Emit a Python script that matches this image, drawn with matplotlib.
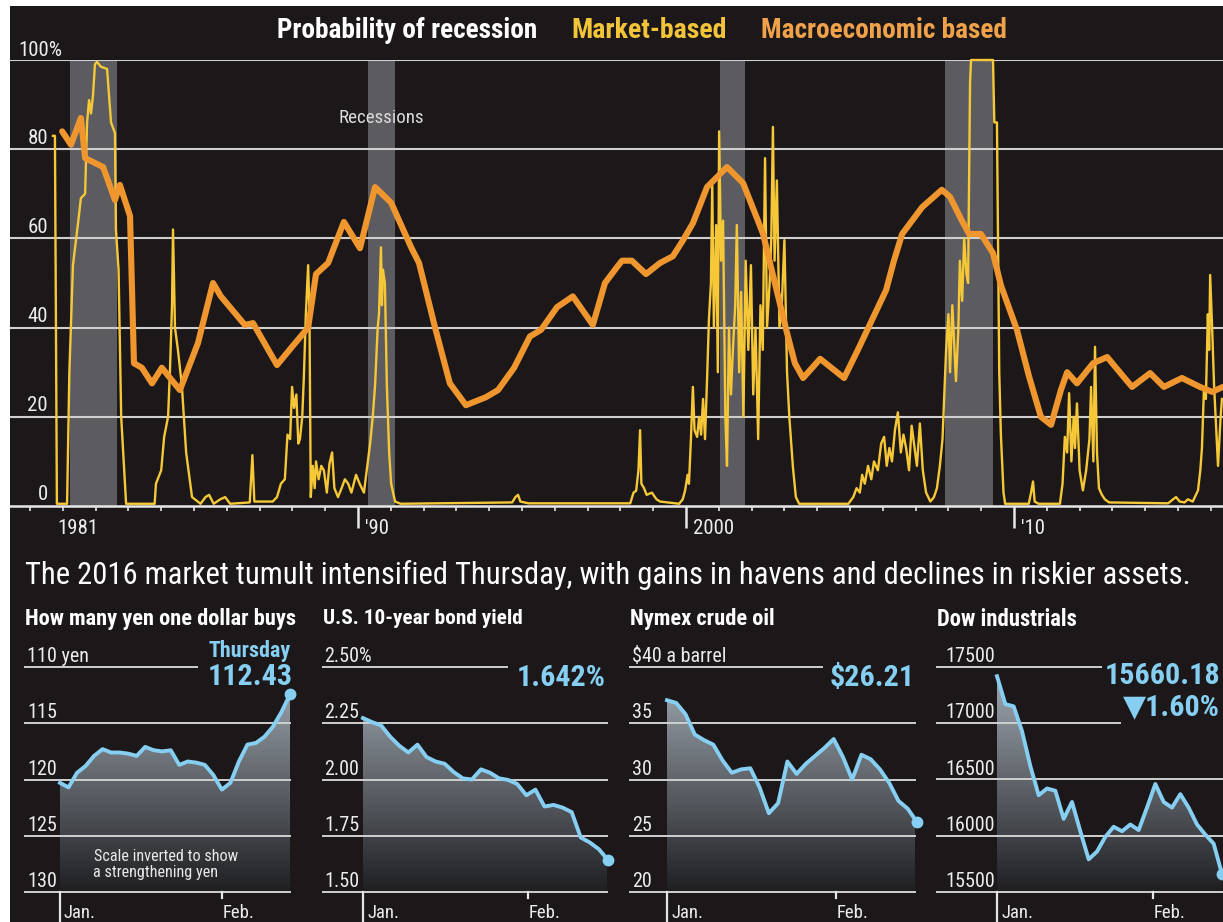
import numpy as np
import matplotlib.pyplot as plt
from matplotlib import transforms as mtrans
from matplotlib import font_manager
from matplotlib.colors import LinearSegmentedColormap
from matplotlib.patches import Rectangle

W, H = 1223, 922
BG = '#1c1819'
YELLOW = '#f6c838'
ORANGE = '#ef962f'
BLUE = '#86cff2'
GRID = '#cfcfcf'
TXT = '#ececec'

installed = {f.name for f in font_manager.fontManager.ttflist}
narrow_pref = ['Liberation Sans Narrow', 'Roboto Condensed', 'Open Sans Condensed',
               'Noto Sans Condensed', 'Roboto']
NARROW = next((f for f in narrow_pref if f in installed), 'DejaVu Sans')
COND = [NARROW, 'DejaVu Sans']

# ---------------- top chart data ----------------
mkt_year = [1980.70, 1980.76, 1980.82, 1981.13, 1981.20, 1981.31, 1981.49, 1981.55, 1981.68, 1981.74,
            1981.80, 1981.86, 1981.92, 1981.98, 1982.04, 1982.16, 1982.35, 1982.47, 1982.59, 1982.62,
            1982.70, 1982.78, 1982.93, 1983.80, 1983.84, 1984.00, 1984.09, 1984.21, 1984.27, 1984.33,
            1984.36, 1984.42, 1984.51, 1984.63, 1984.76, 1984.94, 1985.20, 1985.35, 1985.46, 1985.60,
            1985.80, 1985.95, 1986.10, 1986.70, 1986.78, 1986.84, 1987.40, 1987.53, 1987.65, 1987.77,
            1987.85, 1987.93, 1987.99, 1988.05, 1988.12, 1988.18, 1988.23, 1988.30, 1988.35, 1988.41,
            1988.48, 1988.52, 1988.56, 1988.62, 1988.68, 1988.72, 1988.80, 1988.88, 1988.96, 1989.05,
            1989.13, 1989.21, 1989.28, 1989.39, 1989.50, 1989.60, 1989.70, 1989.80, 1989.94, 1990.05,
            1990.18, 1990.30, 1990.37, 1990.45, 1990.52, 1990.60, 1990.64, 1990.70, 1990.73, 1990.76,
            1990.82, 1990.88, 1990.95, 1991.01, 1991.13, 1991.30, 1994.70, 1994.80, 1994.88, 1994.95,
            1995.20, 1998.30, 1998.40, 1998.48, 1998.55, 1998.60, 1998.64, 1998.72, 1998.80, 1998.96,
            1999.10, 1999.21, 1999.79, 1999.90, 1999.97, 2000.05, 2000.09, 2000.15, 2000.21, 2000.26,
            2000.34, 2000.40, 2000.46, 2000.52, 2000.58, 2000.64, 2000.70, 2000.76, 2000.80, 2000.85,
            2000.92, 2000.97, 2001.01, 2001.07, 2001.13, 2001.20, 2001.25, 2001.31, 2001.37, 2001.43,
            2001.50, 2001.55, 2001.62, 2001.68, 2001.75, 2001.82, 2001.90, 2001.98, 2002.05, 2002.12,
            2002.20, 2002.27, 2002.34, 2002.41, 2002.47, 2002.55, 2002.60, 2002.65, 2002.70, 2002.77,
            2002.85, 2002.92, 2003.00, 2003.08, 2003.15, 2003.26, 2003.35, 2003.45, 2004.95, 2005.10,
            2005.20, 2005.30, 2005.37, 2005.45, 2005.55, 2005.65, 2005.73, 2005.85, 2005.95, 2006.04,
            2006.12, 2006.20, 2006.28, 2006.37, 2006.46, 2006.55, 2006.63, 2006.71, 2006.80, 2006.88,
            2006.95, 2007.04, 2007.13, 2007.22, 2007.32, 2007.45, 2007.56, 2007.65, 2007.74, 2007.82,
            2007.93, 2008.00, 2008.05, 2008.12, 2008.23, 2008.30, 2008.35, 2008.42, 2008.48, 2008.55,
            2008.60, 2008.66, 2008.69, 2009.36, 2009.40, 2009.48, 2009.55, 2009.60, 2009.68, 2009.73,
            2010.45, 2010.52, 2010.58, 2010.63, 2010.75, 2011.40, 2011.48, 2011.55, 2011.62, 2011.68,
            2011.75, 2011.82, 2011.86, 2011.92, 2012.00, 2012.10, 2012.20, 2012.30, 2012.35, 2012.42,
            2012.47, 2012.53, 2012.59, 2012.68, 2012.77, 2012.90, 2014.70, 2014.85, 2014.94, 2015.05,
            2015.20, 2015.30, 2015.45, 2015.61, 2015.68, 2015.73, 2015.79, 2015.85, 2015.91, 2015.95,
            2015.98, 2016.04, 2016.10, 2016.16, 2016.22, 2016.30, 2016.34]
mkt_val = [83, 83, 0.5, 0.5, 30, 54, 65, 69, 70, 86,
           91, 88, 92, 99, 99.6, 98.5, 98, 86, 83.6, 62,
           53, 20, 0.5, 0.5, 5, 8, 15.5, 20, 31, 45,
           62, 40, 35, 27, 12, 2, 0.5, 2, 2.5, 0.5,
           1.5, 2, 0.5, 0.8, 11.4, 1, 1, 2, 5, 6,
           16, 15, 26.7, 22, 25, 14, 15, 20, 29, 43,
           54, 43, 2, 9, 4, 10, 6, 9, 8, 3,
           9.5, 12, 4, 2, 4, 6, 5, 3, 7, 5,
           3, 10, 14, 20, 27, 40, 43, 58, 45, 53,
           50, 27, 12, 5, 1, 0.5, 0.8, 2, 2.5, 1,
           0.6, 0.6, 3, 3.4, 8, 17, 5, 4, 2.5, 3,
           1.5, 1, 0.5, 1.5, 3.4, 7, 5, 15, 26.7, 17,
           15.5, 20, 16, 24, 15, 28, 42, 50, 72, 40,
           63, 30, 84, 55, 64, 20, 9, 40, 25, 35,
           45, 63, 30, 48, 20, 55, 35, 54, 25, 40,
           15, 45, 35, 78, 40, 50, 60, 85, 55, 73,
           40, 45, 59.6, 30, 20, 8.7, 2, 0.5, 0.5, 2,
           4, 3, 7, 5, 9, 6, 10, 8, 14, 15.5,
           9, 13, 10, 17, 21, 12, 16, 13, 8, 18,
           14, 9, 18.5, 8, 3, 1, 2, 4, 9, 15,
           35, 43, 30, 45, 28, 39, 55, 46, 60, 52,
           50, 95, 100, 100, 86, 86, 30, 16, 3, 0.5,
           0.5, 3, 5.5, 1, 0.5, 0.5, 5, 15.5, 12, 25.3,
           10, 20, 13, 23, 8, 3.5, 8, 15, 26.7, 10,
           35.7, 12, 4, 2.5, 1.5, 0.8, 0.6, 1.5, 2, 1,
           0.8, 1.5, 1, 3.5, 8, 13, 26, 24, 43, 35,
           51.8, 40, 27, 18, 9, 20, 24]

mac_year = [1980.98, 1981.25, 1981.55, 1981.68, 1982.23, 1982.59, 1982.74, 1983.05, 1983.17, 1983.41,
            1983.72, 1984.02, 1984.27, 1984.57, 1985.12, 1985.58, 1985.82, 1986.55, 1986.80, 1987.53,
            1987.99, 1988.48, 1988.72, 1989.09, 1989.57, 1990.06, 1990.52, 1991.01, 1991.62, 1991.86,
            1992.35, 1992.80, 1993.29, 1993.90, 1994.27, 1994.76, 1995.24, 1995.58, 1996.07, 1996.55,
            1997.16, 1997.53, 1997.90, 1998.05, 1998.35, 1998.78, 1999.21, 1999.60, 1999.91, 2000.21,
            2000.64, 2001.25, 2001.74, 2002.10, 2002.35, 2002.59, 2002.71, 2003.08, 2003.32, 2003.57,
            2004.09, 2004.82, 2005.24, 2006.10, 2006.34, 2006.59, 2007.20, 2007.80, 2008.05, 2008.41,
            2008.63, 2008.99, 2009.36, 2009.60, 2010.09, 2010.46, 2010.82, 2011.13, 2011.43, 2011.62,
            2011.92, 2012.41, 2012.84, 2013.11, 2013.60, 2014.15, 2014.57, 2015.12, 2015.67, 2016.04,
            2016.37]
mac_val = [84, 81, 87, 78, 76, 68.6, 72, 65, 32, 31,
           27.5, 31, 28.7, 26, 36.5, 50, 47, 40.6, 41, 31.6,
           35.7, 40, 52, 54.5, 63.7, 57.8, 71.5, 68, 58, 54.5,
           40, 27.5, 22.6, 24.4, 26, 31, 38, 39.5, 44.6, 47,
           40.6, 50, 53.6, 55, 55, 52, 54.5, 56, 59.6, 63.4,
           71.5, 76, 72.4, 65.7, 61, 53.6, 50, 38.8, 32, 28.7,
           33, 28.7, 35, 48.4, 55, 61, 67, 70.9, 69.3, 64,
           61, 61, 56.7, 49.5, 39.5, 29, 20, 18.2, 26, 30,
           27.5, 32, 33.4, 31, 26.7, 29.8, 26.7, 28.7, 26.7, 25.6,
           26.7]

recessions = [(1981.22, 1982.65), (1990.30, 1991.13), (2001.04, 2001.80), (2007.90, 2009.36)]
top_grid = [20, 40, 60, 80, 100]
top_ylabels = [0, 20, 40, 60, 80]
top_major = [1990, 2000, 2010]
top_xlabel_years = [1981, 1990, 2000, 2010]
top_xlabels = ['1981', "'90", '2000', "'10"]

# ---------------- small panels data (trading days, Jan 4 - Feb 11) ----------------
yen = [120.3, 120.7, 119.4, 118.8, 117.9, 117.3, 117.6, 117.6, 117.7, 117.9,
       117.1, 117.4, 117.5, 117.4, 118.7, 118.4, 118.5, 118.7, 119.6, 120.9,
       120.3, 118.4, 116.9, 116.75, 116.2, 115.3, 114.0, 112.43]
bond = [2.273, 2.255, 2.24, 2.19, 2.15, 2.12, 2.155, 2.10, 2.08, 2.07,
        2.033, 2.005, 2.00, 2.045, 2.03, 2.005, 1.998, 1.98, 1.93, 1.955,
        1.88, 1.887, 1.875, 1.855, 1.742, 1.72, 1.69, 1.642]
oil = [37.05, 36.8, 35.8, 34.0, 33.5, 33.1, 31.7, 30.6, 30.9, 31.0,
       29.3, 27.0, 27.9, 31.6, 30.5, 31.4, 32.1, 32.8, 33.6, 32.0,
       30.0, 32.2, 31.8, 30.9, 29.7, 28.1, 27.4, 26.21]
dow = [17418, 17170, 17150, 16930, 16620, 16360, 16420, 16400, 16150, 16300,
       16040, 15790, 15860, 15990, 16080, 16040, 16100, 16050, 16250, 16460,
       16300, 16250, 16370, 16250, 16100, 16010, 15930, 15660]


def fx(x):
    return x / W


def fy(y):
    return 1 - y / H


def px_to_year(px):
    return 1990 + (px - 358) / 32.8


fig = plt.figure(figsize=(W / 100, H / 100), dpi=100, facecolor='white')
fig.patches.append(Rectangle((fx(10), 0), 1 - fx(10), fy(6), transform=fig.transFigure,
                             facecolor=BG, edgecolor='none', zorder=-10))
renderer = fig.canvas.get_renderer()


def fit(t, width_px):
    # shrink / grow a text so it spans the same width as in the reference
    bb = t.get_window_extent(renderer)
    t.set_fontsize(t.get_fontsize() * width_px / bb.width)
    return t


# ================= top chart =================
ax = fig.add_axes([fx(10), fy(506), fx(1223) - fx(10), (506 - 60) / H])
ax.patch.set_alpha(0)
for s in ax.spines.values():
    s.set_visible(False)
ax.set_xlim(px_to_year(10), px_to_year(1223))
ax.set_ylim(0, 100)
ax.set_yticks([])
ax.set_xticks(top_major)
ax.set_xticks(range(1980, 2017), minor=True)
ax.set_xticklabels([])
ax.tick_params(axis='x', which='major', length=16, width=1.8, color='#e6e6e6', direction='out')
ax.tick_params(axis='x', which='minor', length=3.5, width=1.2, color='#e6e6e6', direction='out')

for a, b in recessions:
    ax.axvspan(a, b, color='#5b5b60', lw=0, zorder=1)
for v in top_grid:
    ax.axhline(v, color=GRID, lw=1.5, zorder=2)
ax.axhline(0, color='#e8e8e8', lw=1.8, zorder=6, clip_on=False)

ax.plot(mkt_year, mkt_val, color=YELLOW, lw=1.7, zorder=3, clip_on=False)
ax.plot(mac_year, mac_val, color=ORANGE, lw=4.4, zorder=4,
        solid_joinstyle='round', solid_capstyle='round')

yt = mtrans.blended_transform_factory(fig.transFigure, ax.transData)
for v in top_ylabels:
    ax.text(fx(48), v, str(v), transform=mtrans.offset_copy(yt, fig=fig, y=4, units='points'),
            ha='right', va='baseline', fontsize=15, color=TXT, family=COND)
ax.text(fx(18), 100, '100%', transform=mtrans.offset_copy(yt, fig=fig, y=3, units='points'),
        ha='left', va='baseline', fontsize=15, color=TXT, family=COND)

xt = mtrans.blended_transform_factory(ax.transData, fig.transFigure)
for yr, lab in zip(top_xlabel_years, top_xlabels):
    dx = -4 if yr == 1981 else 5
    ax.text(yr, fy(528), lab, transform=mtrans.offset_copy(xt, fig=fig, x=dx, units='points'),
            ha='left', va='center', fontsize=15, color=TXT, family=COND)

fit(fig.text(fx(277), fy(30), 'Probability of recession', fontsize=18, weight='bold',
             color='white', va='center', family=COND), 261)
fit(fig.text(fx(571), fy(30), 'Market-based', fontsize=18, weight='bold',
             color='#f2c43a', va='center', family=COND), 156)
fit(fig.text(fx(761), fy(30), 'Macroeconomic based', fontsize=18, weight='bold',
             color='#f0a24a', va='center', family=COND), 246)
fit(fig.text(fx(338), fy(118), 'Recessions', fontsize=12, color='#dadada',
             ha='left', va='center', family=COND), 85)

fit(fig.text(fx(25), fy(575),
             'The 2016 market tumult intensified Thursday, with gains in havens and declines in riskier assets.',
             fontsize=16, color='white', va='center', family=COND), 1170)

# ================= small panels =================
FILL = LinearSegmentedColormap.from_list('fill', ['#1f1f22', '#a4adb6'])
PTOP, PBOT = 667, 892


def panel(vals, lo, hi, ticks, labels, title, title_w, left, right, jan, end, feb, partial, lab_x):
    n = len(vals)
    idx = np.arange(n)
    ppi = (end - jan) / (n - 1)
    pax = fig.add_axes([fx(left), fy(PBOT), fx(right) - fx(left), (PBOT - PTOP) / H])
    pax.axis('off')

    poly = pax.fill_between(idx, vals, lo, facecolor='none', lw=0)
    grad = np.linspace(1, 0, 256).reshape(-1, 1)
    im = pax.imshow(grad, extent=[idx[0], idx[-1], lo, hi], origin='upper',
                    aspect='auto', cmap=FILL, zorder=1)
    im.set_clip_path(poly.get_paths()[0], transform=pax.transData)
    pax.set_xlim((left - jan) / ppi, (right - jan) / ppi)
    pax.set_ylim(lo, hi)

    gt = mtrans.blended_transform_factory(fig.transFigure, pax.transData)
    for v, lab in zip(ticks, labels):
        xr = partial.get(v, right)
        pax.plot([fx(left), fx(xr)], [v, v], transform=gt, color=GRID, lw=1.4,
                 zorder=2, clip_on=False)
        pax.text(fx(lab_x), v, lab, transform=mtrans.offset_copy(gt, fig=fig, y=3.5, units='points'),
                 ha='left', va='baseline', fontsize=14.5, color=TXT, family=COND)

    pax.plot(idx, vals, color=BLUE, lw=2.8, zorder=4, solid_joinstyle='round', clip_on=False)
    pax.plot(idx[-1], vals[-1], 'o', ms=7.5, color=BLUE, zorder=5, clip_on=False)

    # month ticks
    fig.add_artist(plt.Line2D([fx(jan), fx(jan)], [fy(PBOT), fy(922)], color='#e6e6e6', lw=1.6))
    fig.add_artist(plt.Line2D([fx(feb), fx(feb)], [fy(PBOT), fy(898)], color='#e6e6e6', lw=1.6))
    fig.text(fx(jan + 4), fy(913), 'Jan.', fontsize=13.5, color=TXT, va='center', family=COND)
    fig.text(fx(feb + 1), fy(913), 'Feb.', fontsize=13.5, color=TXT, va='center', family=COND)

    fit(fig.text(fx(left), fy(619), title, fontsize=14.5, weight='bold', color='white',
                 va='center', family=COND), title_w)
    return pax


def big(txt, x, y, w, ha='right', size=23):
    t = fig.text(fx(x), fy(y), txt, fontsize=size, weight='bold', color=BLUE,
                 ha=ha, va='center', family=COND)
    return fit(t, w) if w else t


panel(yen, 130, 110, [110, 115, 120, 125, 130], ['110 yen', '115', '120', '125', '130'],
      'How many yen one dollar buys', 272, 25, 290, 60, 290, 222, {110: 197}, 27)
big('Thursday', 291, 651, 82)
t_big = big('112.43', 293, 677, 85)
note = fit(fig.text(fx(94), fy(856), 'Scale inverted to show', fontsize=10.5,
                    color='#e8e8e8', va='center', ha='left', family=COND), 146)
fig.text(fx(93), fy(873), 'a strengthening yen', fontsize=note.get_fontsize(),
         color='#e8e8e8', va='center', ha='left', family=COND)

panel(bond, 1.50, 2.50, [2.50, 2.25, 2.00, 1.75, 1.50], ['2.50%', '2.25', '2.00', '1.75', '1.50'],
      'U.S. 10-year bond yield', 200, 323, 607, 363, 608, 528, {2.50: 507}, 324)
big('1.642%', 606, 678, 0, size=t_big.get_fontsize())

panel(oil, 20, 40, [40, 35, 30, 25, 20], ['$40 a barrel', '35', '30', '25', '20'],
      'Nymex crude oil', 145, 630, 915, 667, 917, 836, {40: 822}, 632)
big('$26.21', 915, 678, 0, size=t_big.get_fontsize())

panel(dow, 15500, 17500, [17500, 17000, 16500, 16000, 15500],
      ['17500', '17000', '16500', '16000', '15500'],
      'Dow industrials', 140, 937, 1223, 997, 1222, 1153, {17500: 1101, 17000: 1120}, 945)
big('15660.18', 1220, 676, 0, size=t_big.get_fontsize())
big('\u25bc1.60%', 1220, 707, 0, size=t_big.get_fontsize())

fig.savefig('out.png', dpi=100, facecolor=fig.get_facecolor())
